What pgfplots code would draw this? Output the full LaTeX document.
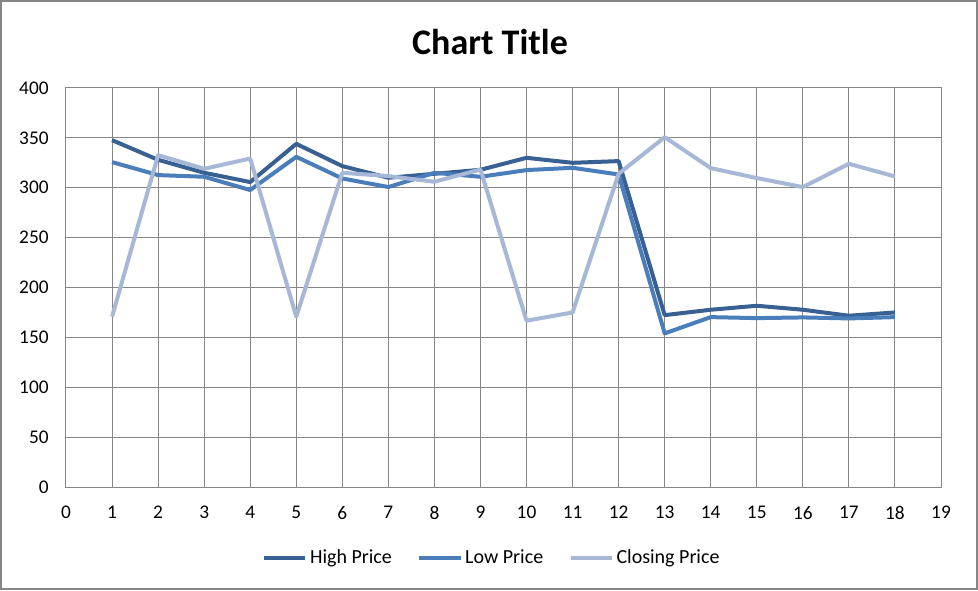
\documentclass[border=0pt]{standalone}
\usepackage{pgfplots}
\pgfplotsset{compat=1.18}
\usepackage{fontspec}
\setmainfont{Carlito}
\definecolor{highc}{RGB}{56,96,146}
\definecolor{lowc}{RGB}{74,126,187}
\definecolor{closec}{RGB}{166,184,214}
\definecolor{gridc}{RGB}{134,134,134}
\begin{document}
\begin{tikzpicture}
\draw[gridc, line width=1.2pt] (0.6pt,0.6pt) rectangle (732.9pt,441.9pt);
\node[font=\bfseries\fontsize{27}{30}\selectfont] at (367.5pt,411pt) {Chart Title};
\begin{axis}[
  at={(49.5pt,77.25pt)}, anchor=south west,
  scale only axis, width=656.25pt, height=299.25pt,
  xmin=0, xmax=19, ymin=0, ymax=400,
  xtick={0,1,...,19}, ytick={0,50,...,400},
  major tick length=0pt,
  grid=major,
  grid style={gridc, line width=0.75pt},
  axis line style={gridc, line width=0.75pt},
  tick label style={font=\fontsize{14.5}{16}\selectfont, text=black},
  /pgf/number format/assume math mode=true,
  xticklabel style={yshift=-11pt},
  yticklabel style={xshift=-9.5pt},
  legend style={at={(0.487,-0.178)}, anchor=center, draw=none, font=\fontsize{15}{17}\selectfont, column sep=0pt,
    /tikz/every even column/.append style={column sep=17pt}},
  legend columns=3,
  legend image code/.code={\draw[#1, line width=3pt] (0pt,0pt) -- (31pt,0pt);},
  every axis plot/.append style={line width=3pt, line join=round, mark=none},
]
\addplot[highc] coordinates {(1,347.7)(2,328)(3,315)(4,305.7)(5,344)(6,321.7)(7,310)(8,314)(9,318)(10,330)(11,325)(12,326.7)(13,172.3)(14,177.7)(15,181.7)(16,177.7)(17,171.7)(18,175)};
\addlegendentry{High Price}
\addplot[lowc] coordinates {(1,325.7)(2,312.7)(3,311)(4,297.7)(5,331)(6,309.3)(7,300.7)(8,315)(9,311)(10,317.7)(11,320)(12,313.3)(13,154)(14,170.3)(15,169.3)(16,170)(17,169)(18,170.3)};
\addlegendentry{Low Price}
\addplot[closec] coordinates {(1,170.7)(2,332.7)(3,319)(4,329.3)(5,170.7)(6,315)(7,311.7)(8,306)(9,318.3)(10,166.7)(11,175)(12,314)(13,350.7)(14,319.7)(15,309.7)(16,300.7)(17,324)(18,311.3)};
\addlegendentry{Closing Price}
\end{axis}
\end{tikzpicture}
\end{document}
